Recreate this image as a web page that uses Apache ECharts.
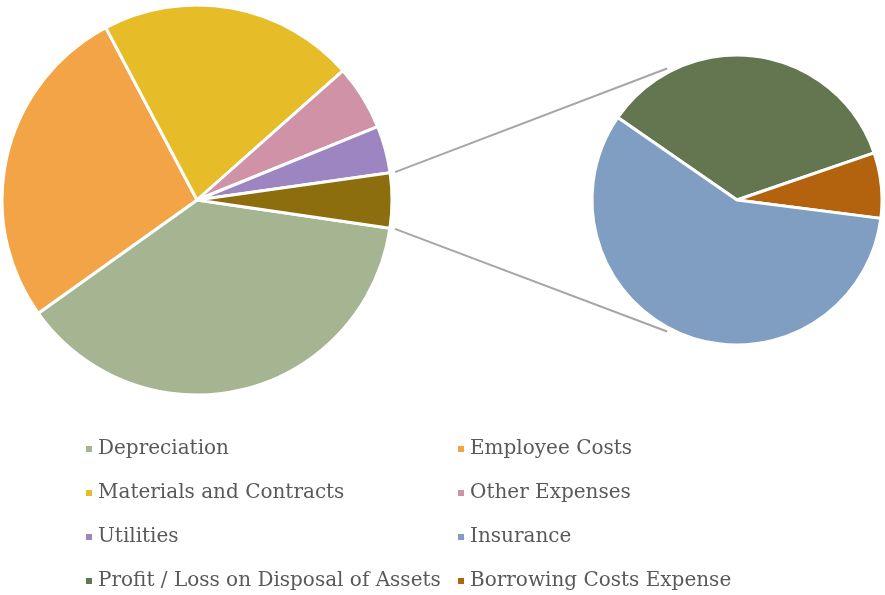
<!DOCTYPE html>
<html>
<head>
<meta charset="utf-8">
<script src="https://cdn.jsdelivr.net/npm/echarts@6/dist/echarts.min.js"></script>
<style>
  html, body { margin: 0; padding: 0; background: #fff; }
  #chart { width: 885px; height: 595px; }
</style>
</head>
<body>
<div id="chart"></div>
<script>
// main pie slices
const mainNames = ['Depreciation', 'Employee Costs', 'Materials and Contracts', 'Other Expenses', 'Utilities'];
const mainValues = [37.8, 27.1, 21.2, 5.4, 3.9];
const mainColors = ['#A5B592', '#F3A447', '#E7BC29', '#D092A7', '#9C85C0'];

// split-off slices (second pie)
const subNames = ['Profit / Loss on Disposal of Assets', 'Borrowing Costs Expense', 'Insurance'];
const subValues = [1.59, 0.33, 2.61];
const subColors = ['#637650', '#B3630E', '#809EC2'];

const otherName = 'Other';
const otherColor = '#8D6E0F';

const legendLeft = ['Depreciation', 'Materials and Contracts', 'Utilities', 'Profit / Loss on Disposal of Assets'];
const legendRight = ['Employee Costs', 'Other Expenses', 'Insurance', 'Borrowing Costs Expense'];

const chart = echarts.init(document.getElementById('chart'));

const c1 = [197, 200], r1 = 195;
const c2 = [737, 200], r2 = 145;
const start1 = -8.3;   // ECharts startAngle (deg, ccw from east)
const start2 = 145.3;

const otherValue = subValues.reduce((a, b) => a + b, 0);
const mainSum = mainValues.reduce((a, b) => a + b, 0);
const total = mainSum + otherValue;

const mainData = mainNames.map((n, i) => ({ name: n, value: mainValues[i], itemStyle: { color: mainColors[i] } }));
mainData.push({ name: otherName, value: otherValue, itemStyle: { color: otherColor } });
const subData = subNames.map((n, i) => ({ name: n, value: subValues[i], itemStyle: { color: subColors[i] } }));

// connector lines (screen angles, clockwise from east)
const rad = d => d * Math.PI / 180;
const aStart = -start1 + mainSum / total * 360;
const aEnd = -start1 + 360;
const p = (c, r, a) => [c[0] + r * Math.cos(rad(a)), c[1] + r * Math.sin(rad(a))];
const L1 = p(c1, r1 + 5, aStart), L2 = p(c1, r1 + 5, aEnd);
const R1 = p(c2, r2 + 4, -118), R2 = p(c2, r2 + 4, 118);

const legendBase = {
  orient: 'vertical',
  top: 437,
  height: 200,
  padding: 0,
  icon: 'rect',
  itemWidth: 8,
  itemHeight: 8,
  itemGap: 20,
  selectedMode: false,
  textStyle: { fontFamily: 'DejaVu Serif', fontSize: 20, color: '#595959', lineHeight: 24 }
};

const option = {
  animation: false,
  legend: [
    Object.assign({}, legendBase, { left: 84, data: legendLeft }),
    Object.assign({}, legendBase, { left: 456, data: legendRight })
  ],
  graphic: [
    { type: 'line', shape: { x1: L1[0], y1: L1[1], x2: R1[0], y2: R1[1] }, style: { stroke: '#A6A6A6', lineWidth: 2 } },
    { type: 'line', shape: { x1: L2[0], y1: L2[1], x2: R2[0], y2: R2[1] }, style: { stroke: '#A6A6A6', lineWidth: 2 } }
  ],
  series: [
    {
      type: 'pie',
      center: c1,
      radius: r1,
      startAngle: start1,
      clockwise: true,
      label: { show: false },
      labelLine: { show: false },
      emphasis: { disabled: true },
      itemStyle: { borderColor: '#fff', borderWidth: 3 },
      data: mainData
    },
    {
      type: 'pie',
      center: c2,
      radius: r2,
      startAngle: start2,
      clockwise: true,
      label: { show: false },
      labelLine: { show: false },
      emphasis: { disabled: true },
      itemStyle: { borderColor: '#fff', borderWidth: 3 },
      data: subData
    }
  ]
};

chart.setOption(option);
</script>
</body>
</html>
